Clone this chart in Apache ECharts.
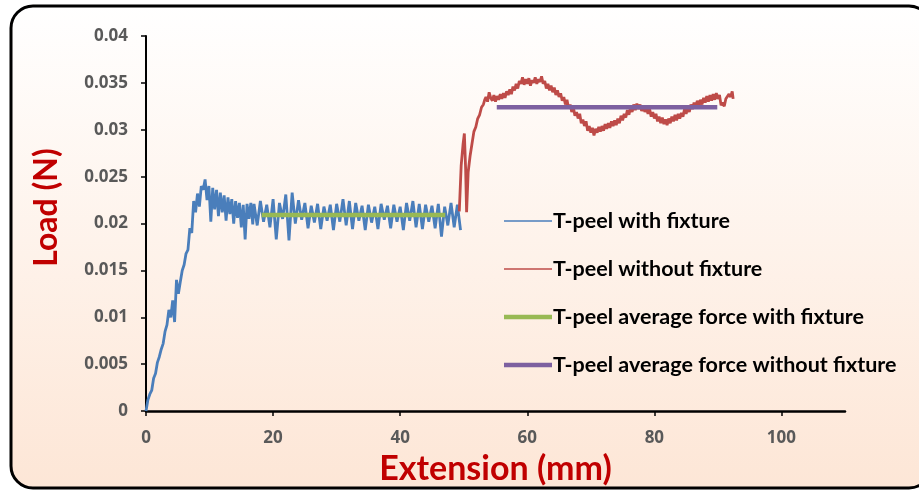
<!DOCTYPE html>
<html>
<head>
<meta charset="utf-8">
<script src="https://cdn.jsdelivr.net/npm/echarts@6/dist/echarts.min.js"></script>
<style>
  html, body { margin: 0; padding: 0; background: #ffffff; }
  #chart { width: 919px; height: 491px; }
</style>
</head>
<body>
<div id="chart"></div>
<script>
// T-peel test: extension (mm) vs load (N)
const extWith = [
  0, 0.3, 0.6, 0.9, 1.2, 1.5, 1.8, 2.1, 2.4, 2.7, 3.0, 3.3, 3.6, 3.9, 4.2, 4.5, 4.8, 5.1, 5.4, 5.7,
  6.0, 6.3, 6.6, 6.9, 7.2, 7.5, 7.8, 8.1, 8.4, 8.7, 9.0, 9.3, 9.6, 9.9, 10.2, 10.5, 10.8, 11.1, 11.4, 11.7,
  12.0, 12.3, 12.6, 12.9, 13.2, 13.5, 13.8, 14.1, 14.4, 14.7, 15.0, 15.3, 15.6, 15.9, 16.2, 16.5, 16.8,
  17.0, 17.5, 18.0, 18.5, 19.0, 19.5, 20.0, 20.5, 21.0, 21.5, 22.0, 22.5, 23.0, 23.5, 24.0, 24.5,
  25.0, 25.5, 26.0, 26.5, 27.0, 27.5, 28.0, 28.5, 29.0, 29.5, 30.0, 30.5, 31.0, 31.5, 32.0, 32.5,
  33.0, 33.5, 34.0, 34.5, 35.0, 35.5, 36.0, 36.5, 37.0, 37.5, 38.0, 38.5, 39.0, 39.5, 40.0, 40.5,
  41.0, 41.5, 42.0, 42.5, 43.0, 43.5, 44.0, 44.5, 45.0, 45.5, 46.0, 46.5, 47.0, 47.5, 48.0, 48.5,
  49.0, 49.5
];
const loadWith = [
  0, 0.0012, 0.0018, 0.0022, 0.0035, 0.0040, 0.0052, 0.0058, 0.0066, 0.0072, 0.0085, 0.0092, 0.0108, 0.0100, 0.0118, 0.0095, 0.0140, 0.0125, 0.0138, 0.0150,
  0.0156, 0.0168, 0.0172, 0.0195, 0.0190, 0.0224, 0.0212, 0.0232, 0.0218, 0.0240, 0.0236, 0.0247, 0.0225, 0.0240, 0.0202, 0.0238, 0.0215, 0.0236, 0.0208, 0.0233,
  0.0212, 0.0230, 0.0203, 0.0228, 0.0210, 0.0226, 0.0200, 0.0224, 0.0206, 0.0222, 0.0196, 0.0220, 0.0183, 0.0221, 0.0205, 0.0222, 0.0199,
  0.0221, 0.0198, 0.0224, 0.0202, 0.0220, 0.0196, 0.0226, 0.0183, 0.0222, 0.0205, 0.0231, 0.0182, 0.0233, 0.0200, 0.0225, 0.0204,
  0.0222, 0.0195, 0.0219, 0.0201, 0.0221, 0.0194, 0.0218, 0.0203, 0.0220, 0.0193, 0.0221, 0.0202, 0.0226, 0.0198, 0.0224, 0.0194,
  0.0222, 0.0203, 0.0219, 0.0193, 0.0220, 0.0201, 0.0218, 0.0194, 0.0221, 0.0204, 0.0219, 0.0195, 0.0220, 0.0202, 0.0218, 0.0193,
  0.0222, 0.0203, 0.0224, 0.0196, 0.0221, 0.0194, 0.0220, 0.0202, 0.0219, 0.0195, 0.0221, 0.0186, 0.0218, 0.0198, 0.0222, 0.0196,
  0.0220, 0.0193
];

const extWithout = [
  49.3, 49.6, 49.9, 50.1, 50.3, 50.45, 50.7, 51.0, 51.3, 51.6, 51.9, 52.2, 52.5, 52.8, 53.1, 53.3,
  53.50, 53.75, 54.00, 54.25, 54.50, 54.75, 55.00, 55.25, 55.50, 55.75, 56.00, 56.25, 56.50, 56.75,
  57.00, 57.25, 57.50, 57.75, 58.00, 58.25, 58.50, 58.75, 59.00, 59.25, 59.50, 59.75, 60.00, 60.25,
  60.50, 60.75, 61.00, 61.25, 61.50, 61.75, 62.00, 62.25, 62.50, 62.75, 63.00, 63.25, 63.50, 63.75,
  64.00, 64.25, 64.50, 64.75, 65.00, 65.25, 65.50, 65.75, 66.00, 66.25, 66.50, 66.75, 67.00, 67.25,
  67.50, 67.75, 68.00, 68.25, 68.50, 68.75, 69.00, 69.25, 69.50, 69.75, 70.00, 70.25, 70.50, 70.75,
  71.00, 71.25, 71.50, 71.75, 72.00, 72.25, 72.50, 72.75, 73.00, 73.25, 73.50, 73.75, 74.00, 74.25,
  74.50, 74.75, 75.00, 75.25, 75.50, 75.75, 76.00, 76.25, 76.50, 76.75, 77.00, 77.25, 77.50, 77.75,
  78.00, 78.25, 78.50, 78.75, 79.00, 79.25, 79.50, 79.75, 80.00, 80.25, 80.50, 80.75, 81.00, 81.25,
  81.50, 81.75, 82.00, 82.25, 82.50, 82.75, 83.00, 83.25, 83.50, 83.75, 84.00, 84.25, 84.50, 84.75,
  85.00, 85.25, 85.50, 85.75, 86.00, 86.25, 86.50, 86.75, 87.00, 87.25, 87.50, 87.75, 88.00, 88.25,
  88.50, 88.75, 89.00, 89.25, 89.50, 89.75, 90.00, 90.25, 90.50, 90.75, 91.00, 91.25, 91.50, 91.75,
  92.00, 92.25, 92.40
];
const loadWithout = [
  0.0213, 0.0262, 0.0285, 0.0296, 0.0258, 0.0212, 0.0255, 0.0272, 0.0285, 0.0298, 0.0303, 0.0312, 0.0316, 0.0324, 0.0327, 0.0332,
  0.0335, 0.0330, 0.0340, 0.0334, 0.0331, 0.0337, 0.0330, 0.0336, 0.0332, 0.0338, 0.0333, 0.0339, 0.0334, 0.0341,
  0.0337, 0.0343, 0.0338, 0.0346, 0.0342, 0.0349, 0.0344, 0.0352, 0.0349, 0.0356, 0.0348, 0.0354, 0.0349, 0.0355,
  0.0347, 0.0353, 0.0350, 0.0356, 0.0349, 0.0354, 0.0351, 0.0357, 0.0349, 0.0352, 0.0344, 0.0349, 0.0342, 0.0347,
  0.0340, 0.0345, 0.0337, 0.0342, 0.0335, 0.0339, 0.0331, 0.0335, 0.0327, 0.0332, 0.0323, 0.0327, 0.0319, 0.0324,
  0.0315, 0.0319, 0.0312, 0.0317, 0.0307, 0.0311, 0.0304, 0.0309, 0.0299, 0.0304, 0.0297, 0.0302, 0.0294, 0.0301,
  0.0297, 0.0303, 0.0298, 0.0304, 0.0299, 0.0306, 0.0301, 0.0307, 0.0302, 0.0309, 0.0304, 0.0310, 0.0305, 0.0312,
  0.0307, 0.0315, 0.0310, 0.0317, 0.0313, 0.0321, 0.0316, 0.0324, 0.0319, 0.0327, 0.0321, 0.0328, 0.0322, 0.0327,
  0.0320, 0.0326, 0.0319, 0.0324, 0.0317, 0.0322, 0.0314, 0.0319, 0.0312, 0.0317, 0.0309, 0.0314, 0.0307, 0.0313,
  0.0306, 0.0311, 0.0305, 0.0312, 0.0307, 0.0314, 0.0309, 0.0316, 0.0310, 0.0317, 0.0312, 0.0318, 0.0314, 0.0322,
  0.0317, 0.0324, 0.0319, 0.0327, 0.0322, 0.0329, 0.0324, 0.0331, 0.0326, 0.0332, 0.0327, 0.0334, 0.0329, 0.0336,
  0.0330, 0.0337, 0.0331, 0.0338, 0.0332, 0.0339, 0.0333, 0.0337, 0.0326, 0.0329, 0.0325, 0.0333, 0.0331, 0.0338,
  0.0335, 0.0341, 0.0333
];

// average force over the steady peel region
const avgWithExt = [18.2, 47.1];
const avgWithLoad = [0.0209, 0.0209];
const avgWithoutExt = [55.2, 89.9];
const avgWithoutLoad = [0.0324, 0.0324];

const xTicks = [0, 20, 40, 60, 80, 100];
const yTicks = [0, 0.005, 0.01, 0.015, 0.02, 0.025, 0.03, 0.035, 0.04];

const seriesNames = [
  'T-peel with fixture',
  'T-peel without fixture',
  'T-peel average force with fixture',
  'T-peel average force without fixture'
];

function pairs(xs, ys) { return xs.map((x, i) => [x, ys[i]]); }

const FONT = 'Lato, "Open Sans", sans-serif';
const TICK_FONT = '"Open Sans", Lato, sans-serif';
const chart = echarts.init(document.getElementById('chart'), null, { renderer: 'canvas' });

chart.setOption({
  animation: false,
  backgroundColor: '#ffffff',
  graphic: [{
    type: 'rect',
    z: -10,
    silent: true,
    shape: { x: 11, y: 6, width: 920, height: 482, r: 22 },
    style: {
      fill: new echarts.graphic.LinearGradient(0, 0, 0, 1, [
        { offset: 0, color: '#ffffff' },
        { offset: 1, color: '#fde6d6' }
      ]),
      stroke: '#000000',
      lineWidth: 3
    }
  }],
  grid: { left: 146, top: 36, right: 74, bottom: 78, containLabel: false },
  xAxis: {
    type: 'value', min: 0, max: 110, interval: 20,
    name: 'Extension (mm)', nameLocation: 'middle', nameGap: 36,
    nameTextStyle: { color: '#c00000', fontFamily: FONT, fontWeight: 'bold', fontSize: 34 },
    axisLine: { show: true, lineStyle: { color: '#000', width: 2.5 } },
    axisTick: { show: true, length: 5, lineStyle: { color: '#000', width: 1.5 }, customValues: xTicks },
    axisLabel: { color: '#595959', fontFamily: TICK_FONT, fontWeight: 'bold', fontSize: 17, margin: 19, customValues: xTicks },
    splitLine: { show: false }
  },
  yAxis: {
    type: 'value', min: 0, max: 0.04, interval: 0.005,
    name: 'Load (N)', nameLocation: 'middle', nameGap: 83, nameRotate: 90,
    nameTextStyle: { color: '#c00000', fontFamily: FONT, fontWeight: 'bold', fontSize: 32, padding: [0, 0, 0, 32] },
    axisLine: { show: true, lineStyle: { color: '#000', width: 2 } },
    axisTick: { show: true, length: 5, lineStyle: { color: '#000', width: 1.5 }, customValues: yTicks },
    axisLabel: { color: '#595959', fontFamily: TICK_FONT, fontWeight: 'bold', fontSize: 17, margin: 18, customValues: yTicks,
      formatter: v => String(+v.toFixed(3)) },
    splitLine: { show: false }
  },
  legend: {
    orient: 'vertical', left: 499, top: 205, itemGap: 26, itemWidth: 48, itemHeight: 22,
    textStyle: { color: '#000', fontFamily: FONT, fontWeight: 'bold', fontSize: 21.5, lineHeight: 22, padding: [0, 0, 0, -4] },
    data: [
      { name: seriesNames[0], icon: 'path://M0,10.2H48V11.8H0Z', itemStyle: { color: '#4a7ebb' } },
      { name: seriesNames[1], icon: 'path://M0,10.2H48V11.8H0Z', itemStyle: { color: '#be4b48' } },
      { name: seriesNames[2], icon: 'path://M0,8.8H48V13.2H0Z', itemStyle: { color: '#98b954' } },
      { name: seriesNames[3], icon: 'path://M0,8.8H48V13.2H0Z', itemStyle: { color: '#7d60a0' } }
    ]
  },
  series: [
    { name: seriesNames[0], type: 'line', showSymbol: false, symbol: 'none', data: pairs(extWith, loadWith),
      lineStyle: { color: '#4a7ebb', width: 2.8 }, itemStyle: { color: '#4a7ebb' }, z: 2 },
    { name: seriesNames[1], type: 'line', showSymbol: false, symbol: 'none', data: pairs(extWithout, loadWithout),
      lineStyle: { color: '#be4b48', width: 2.8 }, itemStyle: { color: '#be4b48' }, z: 2 },
    { name: seriesNames[2], type: 'line', showSymbol: false, symbol: 'none', data: pairs(avgWithExt, avgWithLoad),
      lineStyle: { color: '#98b954', width: 4.5 }, itemStyle: { color: '#98b954' }, z: 3 },
    { name: seriesNames[3], type: 'line', showSymbol: false, symbol: 'none', data: pairs(avgWithoutExt, avgWithoutLoad),
      lineStyle: { color: '#7d60a0', width: 4.5 }, itemStyle: { color: '#7d60a0' }, z: 3 }
  ]
});
</script>
</body>
</html>
